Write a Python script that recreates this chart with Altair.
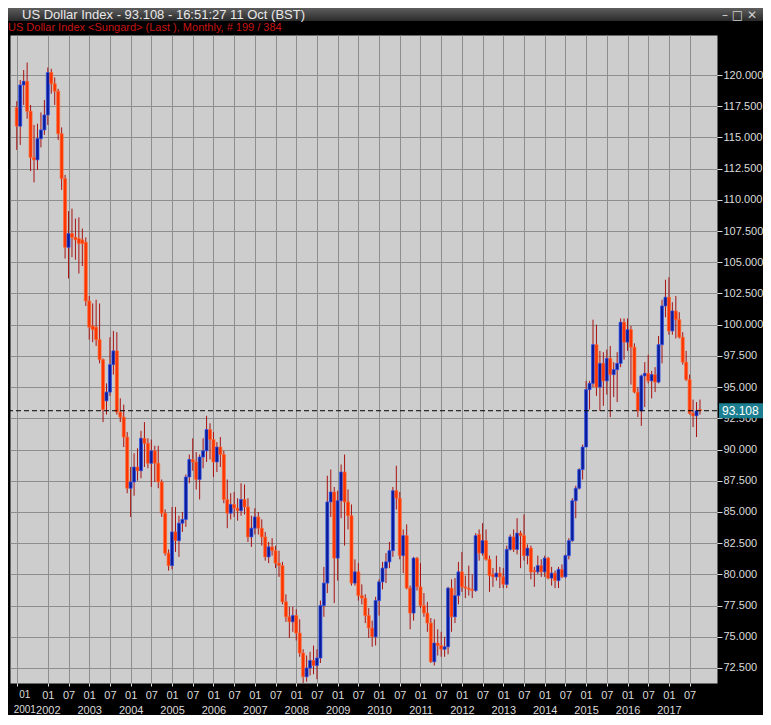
import json
import altair as alt
import pandas as pd

# Monthly US Dollar Index bars, Apr 2001 .. Oct 2017 (199 bars)
opens = [
    117.4, 115.9, 119.2, 119.5, 117.1, 113.4, 113.2, 114.9, 115.6,                 # 2001 Apr-Dec
    116.8, 120.2, 119.3, 118.7, 115.3, 111.7, 106.2, 107.3, 107.0, 106.9, 106.8, 106.6,  # 2002
    101.9, 99.9, 99.8, 98.8, 97.2, 93.9, 94.6, 96.8, 97.9, 93.0, 92.6, 91.0,        # 2003
    86.9, 87.4, 88.6, 88.3, 90.9, 90.5, 88.9, 89.9, 88.9, 87.4, 84.9, 81.7,         # 2004
    80.7, 83.4, 82.7, 84.1, 84.4, 87.8, 89.2, 89.0, 87.6, 89.4, 89.9, 91.6,         # 2005
    90.8, 89.0, 90.2, 89.6, 86.0, 84.9, 85.6, 85.3, 85.1, 86.0, 85.4, 83.0,         # 2006
    83.7, 84.6, 83.7, 83.0, 81.4, 82.2, 81.9, 80.9, 80.7, 77.8, 76.6, 76.2,         # 2007
    76.7, 75.3, 73.7, 71.8, 72.5, 73.1, 72.7, 73.3, 77.5, 79.3, 85.8, 86.6,         # 2008
    81.3, 85.9, 88.2, 85.8, 84.7, 79.3, 80.2, 78.3, 78.1, 76.7, 75.7, 75.0,         # 2009
    77.9, 79.4, 80.5, 81.0, 81.9, 86.7, 86.1, 81.5, 83.1, 78.9, 76.9, 81.3,         # 2010
    79.0, 77.5, 76.9, 76.1, 73.0, 74.5, 74.3, 74.0, 74.2, 78.9, 76.6, 78.3,         # 2011
    80.2, 79.0, 78.9, 78.8, 78.7, 83.2, 81.7, 82.7, 81.2, 80.0, 79.8, 80.1,         # 2012
    79.8, 79.2, 82.0, 83.0, 82.0, 83.3, 83.1, 81.5, 82.1, 80.3, 80.2, 80.7,         # 2013
    80.2, 81.3, 79.7, 80.1, 79.5, 80.4, 79.8, 81.5, 82.7, 85.9, 86.9, 88.4,         # 2014
    90.2, 94.8, 95.3, 98.4, 95.0, 96.9, 95.5, 97.3, 96.0, 96.4, 96.9, 100.2,        # 2015
    98.6, 99.6, 98.2, 94.6, 93.1, 95.9, 96.1, 95.5, 96.0, 95.4, 98.4, 101.5,        # 2016
    102.2, 99.5, 101.1, 100.4, 99.0, 97.0, 95.6, 92.9, 92.7, 93.2,                  # 2017 Jan-Oct
]
highs = [
    117.9, 119.6, 120.4, 121.0, 117.6, 116.0, 116.1, 117.0, 118.0,
    120.6, 120.5, 119.8, 118.9, 115.8, 112.0, 109.1, 109.3, 108.5, 108.6, 107.7, 107.0,
    102.3, 101.7, 102.0, 101.7, 97.3, 95.3, 99.0, 99.5, 99.4, 94.1, 93.6, 91.4,
    88.6, 89.7, 90.1, 91.5, 92.2, 90.9, 90.8, 90.3, 90.3, 87.6, 85.2, 82.0,
    85.4, 85.4, 84.7, 85.0, 88.0, 89.6, 90.9, 89.8, 89.6, 90.9, 92.7, 92.1,
    91.4, 90.6, 91.0, 89.9, 87.6, 86.5, 86.6, 86.1, 87.3, 87.2, 86.1, 84.7,
    85.3, 85.0, 84.4, 83.4, 82.6, 82.9, 82.3, 81.9, 81.0, 78.4, 77.4, 77.4,
    77.2, 76.4, 74.0, 73.5, 73.8, 74.3, 74.0, 77.9, 80.6, 87.9, 88.4, 87.0,
    86.7, 88.8, 89.6, 86.8, 85.6, 81.2, 80.9, 79.2, 78.4, 77.3, 76.3, 78.2,
    79.6, 81.0, 81.7, 82.6, 87.0, 88.7, 86.6, 83.6, 84.0, 79.1, 81.4, 81.4,
    80.9, 78.5, 77.8, 76.5, 76.4, 75.6, 75.4, 75.0, 79.0, 79.6, 79.7, 81.0,
    81.8, 79.9, 80.7, 80.0, 83.3, 83.6, 84.1, 83.6, 81.5, 80.5, 81.5, 80.6,
    80.5, 82.3, 83.2, 83.6, 84.5, 83.5, 84.8, 82.4, 82.3, 80.6, 81.5, 81.2,
    81.5, 81.4, 80.6, 80.3, 80.6, 80.8, 81.6, 82.9, 86.1, 87.1, 88.5, 90.4,
    95.5, 95.5, 100.4, 100.0, 97.9, 97.8, 98.0, 98.3, 97.0, 97.8, 100.5, 100.5,
    100.5, 99.9, 98.5, 95.0, 96.0, 97.0, 97.6, 96.3, 96.6, 99.1, 102.0, 103.6,
    103.8, 101.8, 102.3, 101.0, 99.4, 97.9, 96.0, 94.0, 93.8, 94.0,
]
lows = [
    114.0, 114.4, 117.6, 116.5, 112.3, 111.4, 112.4, 114.2, 115.2,
    116.0, 118.5, 117.6, 114.8, 110.8, 105.3, 103.7, 105.4, 105.2, 104.1, 104.7, 101.5,
    98.8, 98.6, 98.3, 96.9, 92.2, 92.8, 94.3, 96.0, 92.8, 92.2, 90.2, 86.5,
    84.6, 86.3, 87.5, 87.7, 88.6, 88.5, 87.0, 87.4, 86.9, 84.6, 81.5, 80.3,
    80.4, 81.8, 81.4, 83.4, 83.8, 87.3, 88.3, 86.8, 86.0, 88.5, 89.0, 89.2,
    87.8, 88.2, 88.6, 85.7, 83.7, 84.4, 84.6, 84.3, 84.7, 84.8, 82.6, 82.2,
    83.2, 83.2, 82.3, 81.1, 80.9, 81.5, 80.5, 79.8, 77.6, 76.2, 74.9, 75.4,
    74.7, 73.4, 71.3, 71.4, 71.9, 72.0, 71.6, 72.9, 76.6, 78.5, 84.6, 77.7,
    79.5, 84.5, 82.3, 83.6, 79.1, 79.1, 77.9, 77.6, 76.1, 74.9, 74.2, 74.3,
    76.7, 78.8, 79.3, 80.5, 81.4, 85.2, 81.2, 80.1, 78.8, 75.6, 76.3, 78.7,
    77.3, 76.6, 75.4, 72.9, 72.7, 73.5, 73.4, 73.4, 73.6, 75.4, 76.1, 77.6,
    78.6, 78.1, 78.3, 78.1, 78.6, 81.1, 81.5, 81.1, 78.6, 79.0, 79.5, 78.9,
    78.9, 78.9, 81.9, 81.8, 81.6, 80.5, 81.1, 80.8, 79.6, 79.0, 80.0, 79.8,
    79.8, 79.6, 79.1, 78.9, 78.9, 79.7, 79.7, 81.2, 82.6, 84.5, 86.8, 87.6,
    90.2, 93.2, 95.0, 94.3, 93.1, 93.5, 94.4, 92.6, 94.2, 93.8, 96.6, 97.2,
    97.9, 95.2, 94.5, 92.6, 91.9, 93.4, 95.3, 94.1, 94.6, 95.3, 96.9, 100.6,
    99.2, 99.2, 98.9, 98.9, 96.8, 95.5, 92.8, 91.8, 91.0, 92.8,
]
closes = [
    115.9, 119.2, 119.5, 117.1, 113.4, 113.2, 114.9, 115.6, 116.8,
    120.2, 119.3, 118.7, 115.3, 111.7, 106.2, 107.3, 107.0, 106.8, 106.5, 106.5, 101.9,
    99.8, 99.6, 98.8, 97.2, 93.2, 94.6, 96.8, 97.9, 93.0, 92.6, 91.0, 86.9,
    87.4, 88.6, 88.3, 90.9, 90.5, 88.9, 89.9, 88.9, 87.4, 84.9, 81.7, 80.7,
    83.4, 82.7, 84.1, 84.4, 87.8, 89.2, 89.0, 87.6, 89.4, 89.9, 91.6, 90.8,
    89.0, 90.2, 89.6, 86.0, 84.9, 85.6, 85.3, 85.1, 86.0, 85.4, 83.0, 83.7,
    84.6, 83.7, 83.0, 81.4, 82.2, 81.9, 80.9, 80.7, 77.8, 76.6, 76.2, 76.7,
    75.3, 73.7, 71.8, 72.5, 73.1, 72.7, 73.3, 77.5, 79.3, 85.8, 86.6, 81.3,
    85.9, 88.2, 85.8, 84.7, 79.3, 80.2, 78.3, 78.1, 76.7, 75.7, 75.0, 77.9,
    79.4, 80.5, 81.0, 81.9, 86.7, 86.1, 81.5, 83.1, 78.9, 76.9, 81.3, 79.0,
    77.5, 76.9, 76.1, 73.0, 74.5, 74.3, 74.0, 74.2, 78.9, 76.6, 78.3, 80.2,
    79.0, 78.9, 78.8, 78.7, 83.1, 81.7, 82.7, 81.2, 79.9, 79.8, 80.1, 79.8,
    79.2, 82.0, 83.0, 82.0, 83.3, 83.1, 81.5, 82.1, 80.2, 80.2, 80.7, 80.2,
    81.3, 79.7, 80.1, 79.5, 80.4, 79.8, 81.5, 82.7, 85.9, 86.9, 88.4, 90.2,
    94.8, 95.3, 98.4, 95.0, 96.9, 95.5, 97.3, 96.0, 96.4, 96.9, 100.2, 98.6,
    99.6, 98.2, 94.6, 93.1, 95.9, 96.1, 95.5, 96.0, 95.4, 98.4, 101.5, 102.2,
    99.5, 101.1, 100.4, 99.0, 97.0, 95.6, 92.9, 92.7, 93.1, 93.1,
]

# x-axis ticks (bar index), month label and year label
tick_pos = [0, 9, 15, 21, 27, 33, 39, 45, 51, 57, 63, 69, 75, 81, 87, 93, 99,
            105, 111, 117, 123, 129, 135, 141, 147, 153, 159, 165, 171, 177, 183, 189, 195]
tick_month = ["01", "01", "07", "01", "07", "01", "07", "01", "07", "01", "07",
              "01", "07", "01", "07", "01", "07", "01", "07", "01", "07", "01",
              "07", "01", "07", "01", "07", "01", "07", "01", "07", "01", "07"]
tick_year = ["2001", "2002", "", "2003", "", "2004", "", "2005", "", "2006", "",
             "2007", "", "2008", "", "2009", "", "2010", "", "2011", "", "2012",
             "", "2013", "", "2014", "", "2015", "", "2016", "", "2017", ""]
y_ticks = [72.5, 75.0, 77.5, 80.0, 82.5, 85.0, 87.5, 90.0, 92.5, 95.0, 97.5,
           100.0, 102.5, 105.0, 107.5, 110.0, 112.5, 115.0, 117.5, 120.0]
last_price = [93.108]

window_title = "US Dollar Index - 93.108 - 16:51:27  11 Oct (BST)"
sub_title = "US Dollar Index <Sungard> (Last ), Monthly, # 199 / 384"

n = len(closes)
assert len(opens) == n and len(highs) == n and len(lows) == n and n == 199

df = pd.DataFrame({
    "idx": list(range(n)),
    "open": opens, "high": highs, "low": lows, "close": closes,
})
df["dir"] = ["up" if c > o else "down" for o, c in zip(opens, closes)]

labels = [[m, y] if y else [m] for m, y in zip(tick_month, tick_year)]
label_expr = json.dumps(labels) + "[indexof(" + json.dumps(tick_pos) + ", datum.value)]"

W, H = 707, 648
x_scale = alt.Scale(domain=[-0.514, 201.486], nice=False, zero=False)
y_scale = alt.Scale(domain=[71.298, 123.205], nice=False, zero=False)

x_axis = alt.Axis(
    values=tick_pos, labelExpr=label_expr, labelFlush=False,
    labelOverlap=False, labelBound=False, grid=True, tickSize=3,
    labelPadding=3, labelLineHeight=15, labelBaseline="top",
    labelOffset={"condition": {"test": "datum.value == 0", "value": 7.5}, "value": 0},
    labelFontSize={"condition": {"test": "datum.value == 0", "value": 10}, "value": 11},
    domain=False, title=None,
)
y_axis = alt.Axis(orient="right", values=y_ticks, format=".3f", tickSize=5,
                  labelPadding=1, grid=True, domain=False, title=None)

x_enc = alt.X("idx:Q", scale=x_scale, axis=x_axis)

base = alt.Chart(df)

wicks = base.mark_rule(color="#a81212", strokeWidth=1).encode(
    x=x_enc,
    y=alt.Y("low:Q", scale=y_scale, axis=y_axis),
    y2="high:Q",
)

bodies = base.mark_bar(size=3, strokeWidth=0.7).encode(
    x=x_enc,
    y=alt.Y("open:Q", scale=y_scale, axis=y_axis),
    y2="close:Q",
    color=alt.Color("dir:N", scale=alt.Scale(domain=["up", "down"], range=["#0b1a96", "#ff3300"]), legend=None),
    stroke=alt.Stroke("dir:N", scale=alt.Scale(domain=["up", "down"], range=["#2d55f0", "#ff6a30"]), legend=None),
)

price_df = pd.DataFrame({"price": last_price, "label": ["%.3f" % p for p in last_price]})
price_base = alt.Chart(price_df)

dash = price_base.mark_rule(color="#000000", strokeWidth=1, strokeDash=[5, 3]).encode(
    y=alt.Y("price:Q", scale=y_scale, axis=y_axis),
)

box = price_base.mark_point(shape="M-1,-0.341H1V0.341H-1Z", size=1936, filled=True,
                            opacity=1, color="#1b7f91").encode(
    y=alt.Y("price:Q", scale=y_scale, axis=y_axis),
    x=alt.value(731),
)

box_text = price_base.mark_text(align="left", baseline="middle", fontSize=12,
                                color="#ffffff", font="Liberation Sans").encode(
    y=alt.Y("price:Q", scale=y_scale, axis=y_axis),
    x=alt.value(712),
    text="label:N",
)

# window chrome: title bar, its caption and the window buttons
chrome = alt.Chart(alt.Data(values=[{"k": 0}])).mark_rect(
    color=alt.LinearGradient(gradient="linear",
                             stops=[alt.GradientStop(color="#5e5e5e", offset=0),
                                    alt.GradientStop(color="#2a2a2a", offset=1)],
                             x1=0, x2=0, y1=0, y2=1)
).encode(x=alt.value(-2), x2=alt.value(753), y=alt.value(-27), y2=alt.value(-14))

caption = alt.Chart(alt.Data(values=[{"t": window_title}])).mark_text(
    align="left", baseline="middle", fontSize=13, color="#e8e8e8", font="Liberation Sans"
).encode(x=alt.value(12), y=alt.value(-20.5), text="t:N")

buttons = alt.Chart(alt.Data(values=[{"t": "\u2013   \u25a1   \u2715"}])).mark_text(
    align="right", baseline="middle", fontSize=12, color="#cfcfcf", font="DejaVu Sans"
).encode(x=alt.value(747), y=alt.value(-20), text="t:N")

chart = alt.layer(chrome, caption, buttons, wicks, bodies, dash, box, box_text).properties(
    width=W, height=H,
    autosize=alt.AutoSizeParams(type="none"),
    padding={"left": 2, "top": 27, "right": 46, "bottom": 32},
    title=alt.TitleParams(
        text=sub_title, anchor="start", dx=0, offset=-24.5,
        color="#c81414", fontSize=11, fontWeight="normal", font="Liberation Sans",
    ),
).configure(background="#000000").configure_view(
    fill="#cdcdcd", stroke="transparent"
).configure_axis(
    gridColor="#8e8e8e", gridWidth=1, labelColor="#dcdcdc", tickColor="#dcdcdc",
    labelFont="Liberation Sans", labelFontSize=11,
)

chart.save("out.html", embed_options={"renderer": "svg", "actions": False})
